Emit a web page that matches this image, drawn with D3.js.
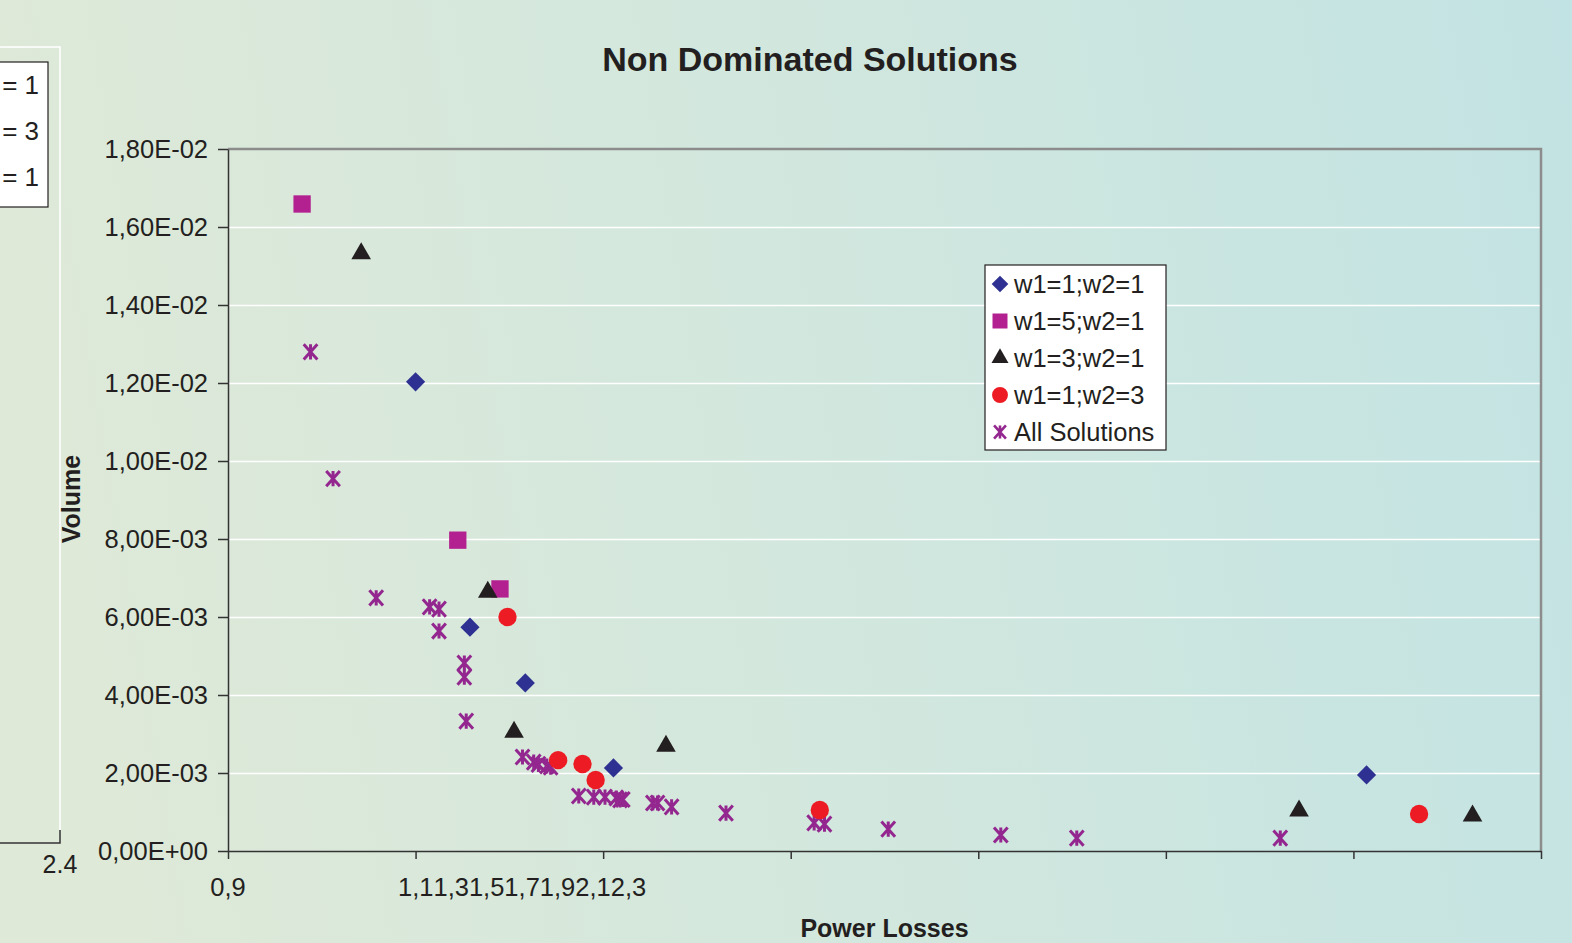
<!DOCTYPE html>
<html>
<head>
<meta charset="utf-8">
<script src="https://cdn.jsdelivr.net/npm/d3@7"></script>
<style>
  html, body { margin: 0; padding: 0; overflow: hidden; }
  svg { display: block; font-family: "Liberation Sans", Arial, sans-serif; }
  .grid line { stroke: #ffffff; stroke-width: 1.5; }
  .grid .domain { display: none; }
  .axis text { fill: #231f20; font-size: 25.5px; }
  .axis line, .axis path { stroke: #333; stroke-width: 1.5; }
</style>
</head>
<body>
<script>
// ---- data ----
var xTickValues = [0.9, 1.1, 1.3, 1.5, 1.7, 1.9, 2.1, 2.3];
var xTickLabels = ['0,9', '1,1', '1,3', '1,5', '1,7', '1,9', '2,1', '2,3'];
var yTickValues = [0, 0.002, 0.004, 0.006, 0.008, 0.010, 0.012, 0.014, 0.016, 0.018];
var yTickLabels = ['0,00E+00', '2,00E-03', '4,00E-03', '6,00E-03', '8,00E-03',
                   '1,00E-02', '1,20E-02', '1,40E-02', '1,60E-02', '1,80E-02'];

var w11 = [[1.100, 0.01203], [1.158, 0.00574], [1.217, 0.00431], [1.311, 0.00213], [2.114, 0.00195]];
var w51 = [[0.979, 0.01659], [1.145, 0.00797], [1.190, 0.00672]];
var w31 = [[1.042, 0.01532], [1.177, 0.00664], [1.205, 0.00305], [1.367, 0.00269], [2.042, 0.00103], [2.227, 0.00090]];
var w13 = [[1.198, 0.00600], [1.252, 0.00233], [1.278, 0.00223], [1.292, 0.00182], [1.531, 0.00105], [2.170, 0.00095]];
var allSolutions = [
  [0.988, 0.01280], [1.012, 0.00955], [1.058, 0.00649], [1.115, 0.00626], [1.125, 0.00620],
  [1.125, 0.00564], [1.152, 0.00482], [1.152, 0.00446], [1.154, 0.00333], [1.214, 0.00241],
  [1.226, 0.00228], [1.231, 0.00222], [1.240, 0.00218], [1.244, 0.00215], [1.274, 0.00141],
  [1.290, 0.00138], [1.302, 0.00138], [1.314, 0.00136], [1.318, 0.00131], [1.321, 0.00132],
  [1.353, 0.00123], [1.358, 0.00123], [1.373, 0.00113], [1.431, 0.00097], [1.525, 0.00072],
  [1.536, 0.00069], [1.604, 0.00056], [1.724, 0.00041], [1.805, 0.00033], [2.022, 0.00033]
];
var seriesNames = ['w1=1;w2=1', 'w1=5;w2=1', 'w1=3;w2=1', 'w1=1;w2=3', 'All Solutions'];
var leftLegendLabels = ['= 1', '= 3', '= 1'];
var leftAxisLabel = '2.4';

// ---- layout ----
var svgWidth = 1572, svgHeight = 943,
    margin = { top: 149, right: 31, bottom: 92, left: 228 },
    chartWidth = svgWidth - margin.left - margin.right,
    chartHeight = svgHeight - margin.top - margin.bottom;

var x = d3.scaleLinear().domain([0.9, 2.3]).range([0, chartWidth]);
var y = d3.scaleLinear().domain([0, 0.018]).range([chartHeight, 0]);

// asterisk marker like the spreadsheet one: X plus a vertical stroke
var asterisk = {
  draw: function (ctx, size) {
    var r = Math.sqrt(size) / 2;
    ctx.moveTo(-r * 0.9, -r); ctx.lineTo(r * 0.9, r);
    ctx.moveTo(-r * 0.9, r); ctx.lineTo(r * 0.9, -r);
    ctx.moveTo(0, -r); ctx.lineTo(0, r);
  }
};

var series = [
  { name: seriesNames[0], data: w11, type: d3.symbolDiamond2, size: 235, fill: '#2e3192' },
  { name: seriesNames[1], data: w51, type: d3.symbolSquare, size: 300, fill: '#b3208f' },
  { name: seriesNames[2], data: w31, type: d3.symbolTriangle2, size: 275, fill: '#231f20' },
  { name: seriesNames[3], data: w13, type: d3.symbolCircle, size: 265, fill: '#ed1c24' },
  { name: seriesNames[4], data: allSolutions, type: asterisk, size: 230, stroke: '#93278f' }
];

var svg = d3.select('body').append('svg')
    .attr('width', svgWidth)
    .attr('height', svgHeight);

var defs = svg.append('defs');
var grad = defs.append('linearGradient')
    .attr('id', 'bg')
    .attr('x1', '0').attr('y1', '0.1')
    .attr('x2', '1').attr('y2', '0');
grad.append('stop').attr('offset', '0%').attr('stop-color', '#dee9d8');
grad.append('stop').attr('offset', '50%').attr('stop-color', '#d1e7de');
grad.append('stop').attr('offset', '100%').attr('stop-color', '#c2e3e3');

svg.append('rect')
    .attr('width', svgWidth)
    .attr('height', svgHeight)
    .attr('fill', 'url(#bg)');

// ---- fragment of a neighbouring chart on the left edge ----
var frag = svg.append('g');
frag.append('path')
    .attr('d', 'M0,47L60,47L60,830')
    .attr('fill', 'none')
    .attr('stroke', '#ffffff')
    .attr('stroke-width', 1.5);
frag.append('path')
    .attr('d', 'M0,843L60,843L60,830')
    .attr('fill', 'none')
    .attr('stroke', '#333')
    .attr('stroke-width', 1.5);
frag.append('text')
    .attr('x', 60)
    .attr('y', 873)
    .attr('text-anchor', 'middle')
    .attr('font-size', 25)
    .attr('fill', '#231f20')
    .text(leftAxisLabel);
frag.append('rect')
    .attr('x', -10).attr('y', 62)
    .attr('width', 58).attr('height', 145)
    .attr('fill', '#ffffff')
    .attr('stroke', '#231f20')
    .attr('stroke-width', 1.2);
frag.selectAll('text.ll')
    .data(leftLegendLabels)
    .enter().append('text')
    .attr('class', 'll')
    .attr('x', 39)
    .attr('y', function (d, i) { return 94 + i * 46; })
    .attr('text-anchor', 'end')
    .attr('font-size', 26)
    .attr('fill', '#231f20')
    .text(function (d) { return d; });

// ---- title ----
svg.append('text')
    .attr('x', 810)
    .attr('y', 71)
    .attr('text-anchor', 'middle')
    .attr('font-size', 34)
    .attr('font-weight', 'bold')
    .attr('fill', '#231f20')
    .text('Non Dominated Solutions');

var g = svg.append('g')
    .attr('transform', 'translate(' + margin.left + ',' + margin.top + ')');

// gridlines
g.append('g')
    .attr('class', 'grid')
    .call(d3.axisLeft(y).tickValues(yTickValues.slice(1, -1)).tickSize(-chartWidth).tickFormat(''));

// plot frame top + right
g.append('path')
    .attr('d', 'M0,0H' + chartWidth + 'V' + chartHeight)
    .attr('fill', 'none')
    .attr('stroke', '#8c8c8c')
    .attr('stroke-width', 2.5);

// y axis
g.append('g')
    .attr('class', 'axis')
    .call(d3.axisLeft(y).tickValues(yTickValues).tickSizeInner(10).tickSizeOuter(0).tickPadding(10)
      .tickFormat(function (d, i) { return yTickLabels[i]; }));

// x axis (labels drawn separately, they overlap in the original)
g.append('g')
    .attr('class', 'axis')
    .attr('transform', 'translate(0,' + chartHeight + ')')
    .call(d3.axisBottom(x).tickValues(xTickValues).tickSizeInner(8).tickSizeOuter(0).tickFormat(''));

var xl = g.append('g').attr('class', 'axis');
var cursor = 170;
xTickLabels.forEach(function (lab, i) {
  var t = xl.append('text')
      .attr('y', chartHeight + 45)
      .text(lab);
  if (i === 0) {
    t.attr('x', x(xTickValues[0])).attr('text-anchor', 'middle');
  } else {
    t.attr('x', cursor);
    cursor += t.node().getComputedTextLength();
  }
});

// axis titles
g.append('text')
    .attr('transform', 'translate(' + (-148) + ',' + (chartHeight / 2 - 1) + ') rotate(-90)')
    .attr('text-anchor', 'middle')
    .attr('font-size', 25)
    .attr('font-weight', 'bold')
    .attr('fill', '#231f20')
    .text('Volume');
g.append('text')
    .attr('x', chartWidth / 2)
    .attr('y', chartHeight + 86)
    .attr('text-anchor', 'middle')
    .attr('font-size', 25)
    .attr('font-weight', 'bold')
    .attr('fill', '#231f20')
    .text('Power Losses');

// points: draw asterisks first so the filled markers sit on top
var order = [4, 0, 1, 2, 3];
order.forEach(function (k) {
  var s = series[k];
  var sym = d3.symbol().type(s.type).size(s.size);
  g.selectAll('path.s' + k)
      .data(s.data)
      .enter().append('path')
      .attr('class', 's' + k)
      .attr('transform', function (d) { return 'translate(' + x(d[0]) + ',' + y(d[1]) + ')'; })
      .attr('d', sym)
      .attr('fill', s.fill || 'none')
      .attr('stroke', s.stroke || 'none')
      .attr('stroke-width', s.stroke ? 3 : 0);
});

// legend
var legend = svg.append('g')
    .attr('transform', 'translate(985,265)');
legend.append('rect')
    .attr('width', 181)
    .attr('height', 185)
    .attr('fill', '#ffffff')
    .attr('stroke', '#231f20')
    .attr('stroke-width', 1.2);
series.forEach(function (s, i) {
  var row = legend.append('g')
      .attr('transform', 'translate(0,' + (19 + i * 37) + ')');
  row.append('path')
      .attr('transform', 'translate(15,0)')
      .attr('d', d3.symbol().type(s.type).size(s.size * 0.75))
      .attr('fill', s.fill || 'none')
      .attr('stroke', s.stroke || 'none')
      .attr('stroke-width', s.stroke ? 2.6 : 0);
  row.append('text')
      .attr('x', 29)
      .attr('y', 9)
      .attr('font-size', 25.5)
      .attr('fill', '#231f20')
      .text(s.name);
});
</script>
</body>
</html>
